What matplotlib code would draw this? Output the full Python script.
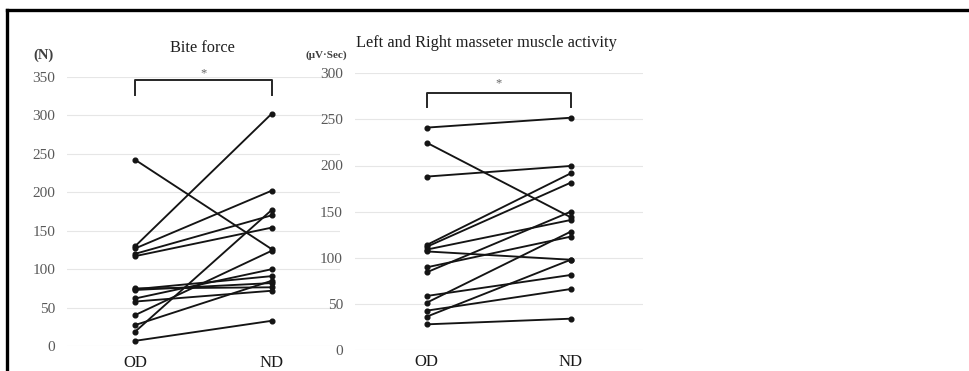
import matplotlib
matplotlib.use("Agg")
import matplotlib.pyplot as plt
from matplotlib.lines import Line2D

# Paired values per subject (OD -> ND)
CATEGORIES = ['OD', 'ND']

BITE_OD = [242, 130, 127, 120, 117, 75, 74, 73, 62, 58, 40.5, 27.5, 19, 7]
BITE_ND = [126, 302, 202, 170, 154, 76.5, 91, 82, 100, 72, 124, 85, 177, 33]
BITE_TICKS = [0, 50, 100, 150, 200, 250, 300, 350]

EMG_OD = [241, 224.7, 188, 114, 112, 109, 107, 89.8, 84.4, 58.8, 51.5, 42.9, 36.4, 28.1]
EMG_ND = [251.7, 144, 199.5, 191.5, 181.4, 141, 98, 123, 150, 81.5, 128.4, 66.3, 98, 34.2]
EMG_TICKS = [0, 50, 100, 150, 200, 250, 300]

# Significance bracket: (leg bottom, top)
BITE_BRACKET = (326, 345.5)
EMG_BRACKET = (263, 278.5)

W, H = 969, 371
plt.rcParams['font.family'] = ['Liberation Serif', 'DejaVu Serif']


def fx(px):
    return px / W


def fy(py):
    return 1 - py / H


def draw_panel(ax, od, nd, ticks, bracket, star_y, xpad):
    """Paired line plot in the Excel style."""
    for a, b in zip(od, nd):
        ax.plot([0, 1], [a, b], color='#141414', lw=1.35, marker='o',
                markersize=3.4, solid_capstyle='round')
    ax.set_xlim(-0.5, 1.5)
    ax.set_ylim(ticks[0], ticks[-1])
    ax.set_yticks(ticks)
    ax.set_xticks([0, 1])
    ax.set_xticklabels(CATEGORIES, fontsize=12, color='#1a1a1a')
    ax.tick_params(axis='y', length=0, pad=8.5, labelsize=11, labelcolor='#595959')
    ax.tick_params(axis='x', length=0, pad=xpad)
    ax.grid(axis='y', color='#e6e6e6', lw=0.8)
    ax.set_axisbelow(True)
    for s in ax.spines.values():
        s.set_visible(False)

    lo, hi = bracket
    ax.plot([0, 0, 1, 1], [lo, hi, hi, lo], color='#262626', lw=1.4, clip_on=False)
    ax.text(0.5, star_y, '*', ha='center', va='center', fontsize=9,
            color='#666666', clip_on=False)


fig = plt.figure(figsize=(9.69, 3.71), dpi=100)

ax1 = fig.add_axes([fx(67), fy(346.2), fx(273), 269.5 / H])
draw_panel(ax1, BITE_OD, BITE_ND, BITE_TICKS, BITE_BRACKET, 355, 6.0)

ax2 = fig.add_axes([fx(354.7), fy(350.3), fx(288), 277.2 / H])
draw_panel(ax2, EMG_OD, EMG_ND, EMG_TICKS, EMG_BRACKET, 289, 3.0)

# Titles and unit labels
fig.text(fx(202), fy(48), 'Bite force', ha='center', va='center',
         fontsize=11.8, color='#1f1f1f')
fig.text(fx(486.7), fy(43), 'Left and Right masseter muscle activity',
         ha='center', va='center', fontsize=11.8, color='#1f1f1f')
fig.text(fx(44), fy(55), '(N)', ha='center', va='center', fontsize=10.5,
         fontweight='bold', color='#404040')
fig.text(fx(326), fy(55), '(\u03bcV\u00b7Sec)', ha='center', va='center',
         fontsize=8, fontweight='bold', color='#404040')

# Outer frame (top and left edges only are in view)
fig.add_artist(Line2D([fx(7), 1.0], [fy(10), fy(10)], color='black', lw=2.4))
fig.add_artist(Line2D([fx(7), fx(7)], [0.0, fy(10)], color='black', lw=2.4))

fig.savefig('out.png', dpi=100)
